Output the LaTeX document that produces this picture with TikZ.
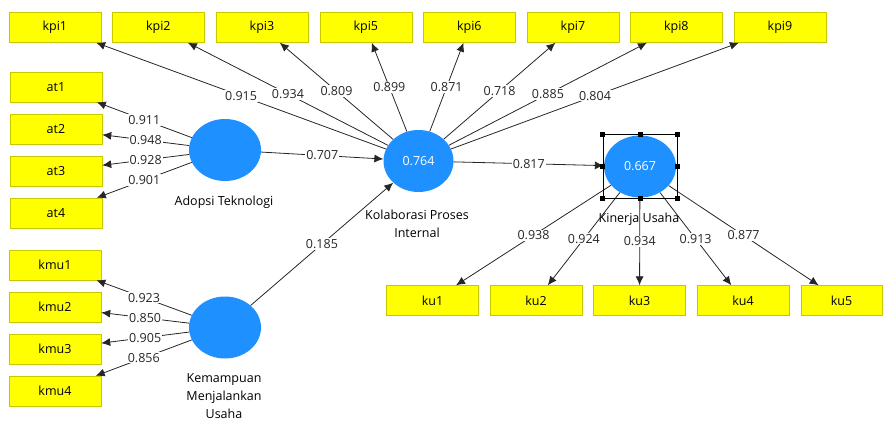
\documentclass[tikz,border=0pt]{standalone}
\usepackage{fontspec}
\setmainfont{Open Sans}
\usetikzlibrary{arrows.meta,shapes.geometric}
\definecolor{indfill}{RGB}{255,255,0}
\definecolor{indline}{RGB}{200,200,0}
\definecolor{lvfill}{RGB}{30,144,255}
\begin{document}
\begin{tikzpicture}[x=1pt,y=-1pt,
every node/.style={font=\fontsize{12.5}{18}\selectfont},
ind/.style={draw=indline,fill=indfill,minimum width=92pt,minimum height=30pt,inner sep=0pt},
lv/.style={ellipse,fill=lvfill,text=white,minimum width=72pt,minimum height=62pt,inner sep=0pt},
arr/.style={-{Latex[length=9pt,width=8pt]},draw=black!85,line width=0.8pt},
lbl/.style={fill=white,inner sep=1pt,text=black!85}]
\useasboundingbox (0,0) rectangle (883,421);
\node[ind] (kpi1) at (54.8,27.5) {kpi1} ;
\node[ind] (kpi2) at (158.3,27.5) {kpi2} ;
\node[ind] (kpi3) at (262,27.5) {kpi3} ;
\node[ind] (kpi5) at (365.8,27.5) {kpi5} ;
\node[ind] (kpi6) at (469.3,27.5) {kpi6} ;
\node[ind] (kpi7) at (573,27.5) {kpi7} ;
\node[ind] (kpi8) at (676.3,27.5) {kpi8} ;
\node[ind] (kpi9) at (780,27.5) {kpi9} ;
\node[ind] (at1) at (56,87) {at1} ;
\node[ind] (at2) at (56,129) {at2} ;
\node[ind] (at3) at (56,171) {at3} ;
\node[ind] (at4) at (56,213) {at4} ;
\node[ind] (kmu1) at (55,265) {kmu1} ;
\node[ind] (kmu2) at (55,307) {kmu2} ;
\node[ind] (kmu3) at (55,349) {kmu3} ;
\node[ind] (kmu4) at (55,391) {kmu4} ;
\node[ind] (ku1) at (432.5,300.5) {ku1} ;
\node[ind] (ku2) at (536,300.5) {ku2} ;
\node[ind] (ku3) at (639.5,300.5) {ku3} ;
\node[ind] (ku4) at (743,300.5) {ku4} ;
\node[ind,minimum width=81pt] (ku5) at (841.5,300.5) {ku5} ;
\node[lv] (AT) at (225,150) {} ;
\node[lv,minimum width=70pt] (KPI) at (418.5,161) {0.764} ;
\node[lv] (KU) at (640,166.5) {0.667} ;
\node[lv] (KMU) at (225,327.5) {} ;
\node (tAT) at (224,202) {Adopsi Teknologi} ;
\node[align=center] (tKPI) at (417,224) {Kolaborasi Proses\\Internal} ;
\node (tKU) at (639,219) {Kinerja Usaha} ;
\node[align=center] (tKMU) at (224,396) {Kemampuan\\Menjalankan\\Usaha} ;
\draw[arr] (KPI) -- node[lbl] {0.915} (kpi1) ;
\draw[arr] (KPI) -- node[lbl] {0.934} (kpi2) ;
\draw[arr] (KPI) -- node[lbl] {0.809} (kpi3) ;
\draw[arr] (KPI) -- node[lbl] {0.899} (kpi5) ;
\draw[arr] (KPI) -- node[lbl] {0.871} (kpi6) ;
\draw[arr] (KPI) -- node[lbl] {0.718} (kpi7) ;
\draw[arr] (KPI) -- node[lbl] {0.885} (kpi8) ;
\draw[arr] (KPI) -- node[lbl] {0.804} (kpi9) ;
\draw[arr] (AT) -- node[lbl] {0.911} (at1) ;
\draw[arr] (AT) -- node[lbl] {0.948} (at2) ;
\draw[arr] (AT) -- node[lbl] {0.928} (at3) ;
\draw[arr] (AT) -- node[lbl] {0.901} (at4) ;
\draw[arr] (KMU) -- node[lbl] {0.923} (kmu1) ;
\draw[arr] (KMU) -- node[lbl] {0.850} (kmu2) ;
\draw[arr] (KMU) -- node[lbl] {0.905} (kmu3) ;
\draw[arr] (KMU) -- node[lbl] {0.856} (kmu4) ;
\draw[arr] (KU) -- node[lbl] {0.938} (ku1) ;
\draw[arr] (KU) -- node[lbl] {0.924} (ku2) ;
\draw[arr] (KU) -- node[lbl] {0.934} (ku3) ;
\draw[arr] (KU) -- node[lbl] {0.913} (ku4) ;
\draw[arr] (KU) -- node[lbl] {0.877} (ku5) ;
\draw[arr] (AT) -- node[lbl] {0.707} (KPI) ;
\draw[arr] (KMU) -- node[lbl] {0.185} (KPI) ;
\draw[arr] (KPI) -- node[lbl] {0.817} (KU) ;
\node[draw=black,line width=0.8pt,minimum width=74pt,minimum height=64pt,inner sep=0pt] (sel) at (KU) {} ;
\foreach \a in {north west,north,north east,east,south east,south,south west,west}
\fill ([shift={(-2.5,-2.5)}]sel.\a) rectangle ([shift={(2.5,2.5)}]sel.\a) ;
\end{tikzpicture}
\end{document}
